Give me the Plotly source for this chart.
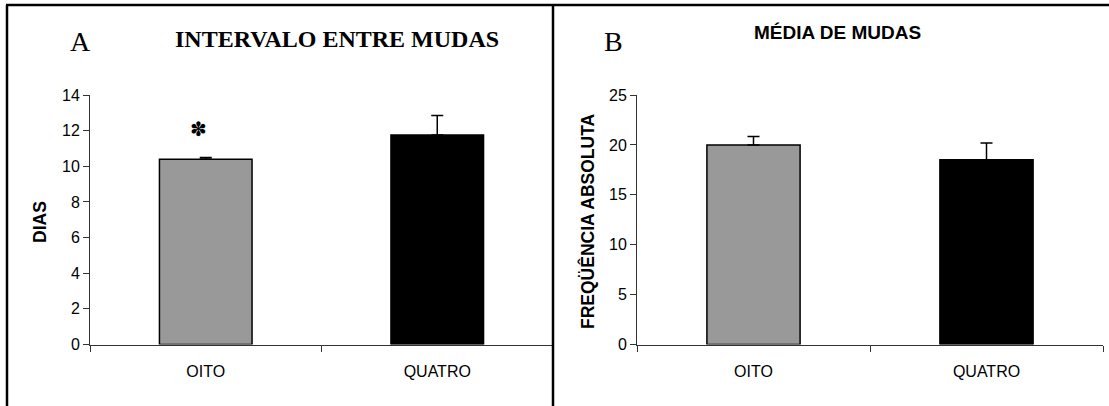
import plotly.graph_objects as go

W, H = 1109, 406

categories = ["OITO", "QUATRO"]
colors = ["#999999", "#000000"]

# Panel A: intervalo entre mudas (dias)
a_means = [10.4, 11.75]
a_errs = [0.1, 1.1]
a_ticks = [0, 2, 4, 6, 8, 10, 12, 14]

# Panel B: média de mudas (frequência absoluta)
b_means = [20.0, 18.5]
b_errs = [0.85, 1.7]
b_ticks = [0, 5, 10, 15, 20, 25]


def px_x(x):
    return x / W


def px_y(y):
    return 1 - y / H


fig = go.Figure()

for xa, ya, means, errs in [("x", "y", a_means, a_errs), ("x2", "y2", b_means, b_errs)]:
    fig.add_trace(go.Bar(
        x=categories, y=means, xaxis=xa, yaxis=ya,
        width=0.4,
        marker=dict(color=colors, line=dict(color="#000000", width=1.5)),
        error_y=dict(type="data", array=errs, arrayminus=[0, 0], symmetric=False,
                     color="#000000", thickness=1.5, width=6),
        showlegend=False, hoverinfo="skip",
    ))

tickfont = dict(family="Liberation Sans", size=16, color="#000000")
axis_common = dict(showgrid=False, zeroline=False, showline=True, linecolor="#333333",
                   linewidth=1, ticks="outside", ticklen=6, tickcolor="#333333",
                   tickwidth=1, tickfont=tickfont, automargin=False)

y0 = 344.5
fig.update_layout(
    template="none",
    width=W, height=H, autosize=False,
    margin=dict(l=0, r=0, t=0, b=0, pad=0, autoexpand=False),
    plot_bgcolor="white", paper_bgcolor="white",
    showlegend=False,
    bargap=0.6,
    xaxis=dict(domain=[px_x(90), px_x(553)], type="category", range=[-0.5, 1.5],
               tickson="boundaries", anchor="y", ticklabelstandoff=12, **axis_common),
    yaxis=dict(domain=[px_y(y0), px_y(95)], range=[0, 14], tickvals=a_ticks,
               anchor="x", **axis_common),
    xaxis2=dict(domain=[px_x(637), px_x(1103)], type="category", range=[-0.5, 1.5],
                tickson="boundaries", anchor="y2", ticklabelstandoff=12, **axis_common),
    yaxis2=dict(domain=[px_y(y0), px_y(95)], range=[0, 25], tickvals=b_ticks,
                anchor="x2", **axis_common),
)

# Borders
line = dict(color="#000000", width=2.5)
fig.add_shape(type="line", xref="paper", yref="paper", x0=px_x(6), x1=1, y0=px_y(5), y1=px_y(5), line=line)
fig.add_shape(type="line", xref="paper", yref="paper", x0=px_x(7), x1=px_x(7), y0=px_y(5), y1=0, line=line)
fig.add_shape(type="line", xref="paper", yref="paper", x0=px_x(553), x1=px_x(553), y0=px_y(5), y1=0, line=line)

serif = "Liberation Serif"
sans = "Liberation Sans"
ann = [
    dict(text="A", x=px_x(80), y=px_y(42), font=dict(family=serif, size=28, color="#000")),
    dict(text="<b>INTERVALO ENTRE MUDAS</b>", x=px_x(337), y=px_y(39), font=dict(family=serif, size=24, color="#000")),
    dict(text="B", x=px_x(613), y=px_y(42), font=dict(family=serif, size=28, color="#000")),
    dict(text="<b>MÉDIA DE MUDAS</b>", x=px_x(837), y=px_y(32), font=dict(family=sans, size=19, color="#000")),
    dict(text="<b>DIAS</b>", x=px_x(40), y=px_y(222), textangle=-90, font=dict(family=sans, size=17.5, color="#000")),
    dict(text="<b>FREQÜÊNCIA ABSOLUTA</b>", x=px_x(588), y=px_y(221), textangle=-90, font=dict(family=sans, size=17.5, color="#000")),
]
for a in ann:
    fig.add_annotation(xref="paper", yref="paper", xanchor="center", yanchor="middle",
                       showarrow=False, **a)

# Significance asterisk above OITO in panel A
fig.add_annotation(xref="x", yref="y", x=categories[0], y=12.1, text="✽",
                   showarrow=False, xshift=-7, yshift=0, xanchor="center", yanchor="middle",
                   font=dict(family="DejaVu Sans", size=20, color="#000"))

fig.write_html("out.html")
